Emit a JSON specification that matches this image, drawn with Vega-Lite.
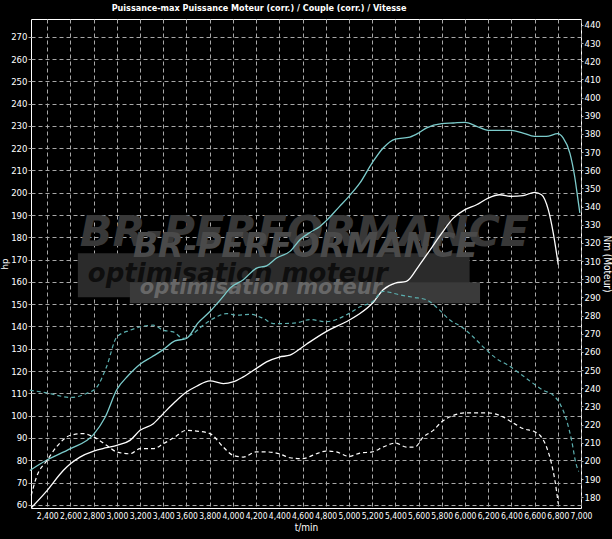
{
  "$schema": "https://vega.github.io/schema/vega-lite/v6.json",
  "width": 550,
  "height": 489,
  "autosize": {"type": "none"},
  "padding": {"left": 31, "top": 19, "right": 31, "bottom": 31},
  "background": "#000000",
  "title": {
    "text": "Puissance-max Puissance Moteur (corr.) / Couple (corr.) / Vitesse",
    "anchor": "middle",
    "dx": -47,
    "offset": 6,
    "fontSize": 9,
    "fontWeight": "bold",
    "color": "#ffffff",
    "font": "DejaVu Sans Condensed, sans-serif"
  },
  "datasets": {
    "power": [
      {"rpm": 2250, "hp": 75.4, "curve": "Puissance-max"},
      {"rpm": 2400, "hp": 80.2, "curve": "Puissance-max"},
      {"rpm": 2600, "hp": 85.2, "curve": "Puissance-max"},
      {"rpm": 2800, "hp": 91.6, "curve": "Puissance-max"},
      {"rpm": 2900, "hp": 99.4, "curve": "Puissance-max"},
      {"rpm": 3000, "hp": 111.7, "curve": "Puissance-max"},
      {"rpm": 3100, "hp": 118.1, "curve": "Puissance-max"},
      {"rpm": 3200, "hp": 123.1, "curve": "Puissance-max"},
      {"rpm": 3300, "hp": 126.3, "curve": "Puissance-max"},
      {"rpm": 3400, "hp": 129.6, "curve": "Puissance-max"},
      {"rpm": 3500, "hp": 133.5, "curve": "Puissance-max"},
      {"rpm": 3600, "hp": 134.6, "curve": "Puissance-max"},
      {"rpm": 3700, "hp": 141.6, "curve": "Puissance-max"},
      {"rpm": 3800, "hp": 146.6, "curve": "Puissance-max"},
      {"rpm": 3917, "hp": 153.5, "curve": "Puissance-max"},
      {"rpm": 3975, "hp": 157.2, "curve": "Puissance-max"},
      {"rpm": 4090, "hp": 161.0, "curve": "Puissance-max"},
      {"rpm": 4205, "hp": 166.2, "curve": "Puissance-max"},
      {"rpm": 4290, "hp": 167.2, "curve": "Puissance-max"},
      {"rpm": 4377, "hp": 170.7, "curve": "Puissance-max"},
      {"rpm": 4492, "hp": 173.7, "curve": "Puissance-max"},
      {"rpm": 4578, "hp": 178.9, "curve": "Puissance-max"},
      {"rpm": 4664, "hp": 182.2, "curve": "Puissance-max"},
      {"rpm": 4750, "hp": 184.9, "curve": "Puissance-max"},
      {"rpm": 4800, "hp": 187.2, "curve": "Puissance-max"},
      {"rpm": 4920, "hp": 193.9, "curve": "Puissance-max"},
      {"rpm": 5000, "hp": 198.4, "curve": "Puissance-max"},
      {"rpm": 5095, "hp": 204.4, "curve": "Puissance-max"},
      {"rpm": 5200, "hp": 213.4, "curve": "Puissance-max"},
      {"rpm": 5295, "hp": 220.1, "curve": "Puissance-max"},
      {"rpm": 5400, "hp": 224.1, "curve": "Puissance-max"},
      {"rpm": 5525, "hp": 225.0, "curve": "Puissance-max"},
      {"rpm": 5600, "hp": 226.8, "curve": "Puissance-max"},
      {"rpm": 5670, "hp": 229.1, "curve": "Puissance-max"},
      {"rpm": 5800, "hp": 231.0, "curve": "Puissance-max"},
      {"rpm": 5900, "hp": 231.3, "curve": "Puissance-max"},
      {"rpm": 6000, "hp": 231.6, "curve": "Puissance-max"},
      {"rpm": 6100, "hp": 229.8, "curve": "Puissance-max"},
      {"rpm": 6200, "hp": 228.0, "curve": "Puissance-max"},
      {"rpm": 6400, "hp": 228.0, "curve": "Puissance-max"},
      {"rpm": 6500, "hp": 226.8, "curve": "Puissance-max"},
      {"rpm": 6600, "hp": 225.3, "curve": "Puissance-max"},
      {"rpm": 6700, "hp": 225.3, "curve": "Puissance-max"},
      {"rpm": 6800, "hp": 226.5, "curve": "Puissance-max"},
      {"rpm": 6846, "hp": 224.6, "curve": "Puissance-max"},
      {"rpm": 6904, "hp": 217.8, "curve": "Puissance-max"},
      {"rpm": 6945, "hp": 207.4, "curve": "Puissance-max"},
      {"rpm": 6974, "hp": 196.9, "curve": "Puissance-max"},
      {"rpm": 6990, "hp": 191.0, "curve": "Puissance-max"},
      {"rpm": 2265, "hp": 58.8, "curve": "Puissance Moteur"},
      {"rpm": 2400, "hp": 66.5, "curve": "Puissance Moteur"},
      {"rpm": 2538, "hp": 75.4, "curve": "Puissance Moteur"},
      {"rpm": 2600, "hp": 78.4, "curve": "Puissance Moteur"},
      {"rpm": 2682, "hp": 81.4, "curve": "Puissance Moteur"},
      {"rpm": 2800, "hp": 84.1, "curve": "Puissance Moteur"},
      {"rpm": 2911, "hp": 85.6, "curve": "Puissance Moteur"},
      {"rpm": 3000, "hp": 86.7, "curve": "Puissance Moteur"},
      {"rpm": 3113, "hp": 88.9, "curve": "Puissance Moteur"},
      {"rpm": 3200, "hp": 93.4, "curve": "Puissance Moteur"},
      {"rpm": 3314, "hp": 96.4, "curve": "Puissance Moteur"},
      {"rpm": 3400, "hp": 100.9, "curve": "Puissance Moteur"},
      {"rpm": 3500, "hp": 106.1, "curve": "Puissance Moteur"},
      {"rpm": 3600, "hp": 110.6, "curve": "Puissance Moteur"},
      {"rpm": 3687, "hp": 113.2, "curve": "Puissance Moteur"},
      {"rpm": 3802, "hp": 115.6, "curve": "Puissance Moteur"},
      {"rpm": 3917, "hp": 114.4, "curve": "Puissance Moteur"},
      {"rpm": 4000, "hp": 115.1, "curve": "Puissance Moteur"},
      {"rpm": 4090, "hp": 117.4, "curve": "Puissance Moteur"},
      {"rpm": 4200, "hp": 121.1, "curve": "Puissance Moteur"},
      {"rpm": 4290, "hp": 124.1, "curve": "Puissance Moteur"},
      {"rpm": 4400, "hp": 126.3, "curve": "Puissance Moteur"},
      {"rpm": 4492, "hp": 127.1, "curve": "Puissance Moteur"},
      {"rpm": 4600, "hp": 130.8, "curve": "Puissance Moteur"},
      {"rpm": 4664, "hp": 133.1, "curve": "Puissance Moteur"},
      {"rpm": 4800, "hp": 137.6, "curve": "Puissance Moteur"},
      {"rpm": 5000, "hp": 142.8, "curve": "Puissance Moteur"},
      {"rpm": 5095, "hp": 145.8, "curve": "Puissance Moteur"},
      {"rpm": 5200, "hp": 150.3, "curve": "Puissance Moteur"},
      {"rpm": 5295, "hp": 156.5, "curve": "Puissance Moteur"},
      {"rpm": 5400, "hp": 159.5, "curve": "Puissance Moteur"},
      {"rpm": 5495, "hp": 160.2, "curve": "Puissance Moteur"},
      {"rpm": 5600, "hp": 167.0, "curve": "Puissance Moteur"},
      {"rpm": 5700, "hp": 174.4, "curve": "Puissance Moteur"},
      {"rpm": 5800, "hp": 181.9, "curve": "Puissance Moteur"},
      {"rpm": 5900, "hp": 188.6, "curve": "Puissance Moteur"},
      {"rpm": 6000, "hp": 192.4, "curve": "Puissance Moteur"},
      {"rpm": 6100, "hp": 194.6, "curve": "Puissance Moteur"},
      {"rpm": 6200, "hp": 197.6, "curve": "Puissance Moteur"},
      {"rpm": 6300, "hp": 199.1, "curve": "Puissance Moteur"},
      {"rpm": 6400, "hp": 198.4, "curve": "Puissance Moteur"},
      {"rpm": 6500, "hp": 198.7, "curve": "Puissance Moteur"},
      {"rpm": 6600, "hp": 200.2, "curve": "Puissance Moteur"},
      {"rpm": 6660, "hp": 199.1, "curve": "Puissance Moteur"},
      {"rpm": 6718, "hp": 192.4, "curve": "Puissance Moteur"},
      {"rpm": 6761, "hp": 181.9, "curve": "Puissance Moteur"},
      {"rpm": 6804, "hp": 167.7, "curve": "Puissance Moteur"}
    ],
    "torque": [
      {"rpm": 2250, "nm": 238.9, "curve": "Couple-max"},
      {"rpm": 2400, "nm": 237.4, "curve": "Couple-max"},
      {"rpm": 2600, "nm": 234.9, "curve": "Couple-max"},
      {"rpm": 2737, "nm": 237.1, "curve": "Couple-max"},
      {"rpm": 2825, "nm": 240.4, "curve": "Couple-max"},
      {"rpm": 2911, "nm": 251.8, "curve": "Couple-max"},
      {"rpm": 3000, "nm": 268.2, "curve": "Couple-max"},
      {"rpm": 3113, "nm": 271.9, "curve": "Couple-max"},
      {"rpm": 3200, "nm": 273.7, "curve": "Couple-max"},
      {"rpm": 3314, "nm": 274.7, "curve": "Couple-max"},
      {"rpm": 3400, "nm": 271.9, "curve": "Couple-max"},
      {"rpm": 3486, "nm": 271.0, "curve": "Couple-max"},
      {"rpm": 3572, "nm": 267.4, "curve": "Couple-max"},
      {"rpm": 3658, "nm": 270.1, "curve": "Couple-max"},
      {"rpm": 3745, "nm": 274.7, "curve": "Couple-max"},
      {"rpm": 3860, "nm": 279.3, "curve": "Couple-max"},
      {"rpm": 3946, "nm": 281.1, "curve": "Couple-max"},
      {"rpm": 4032, "nm": 280.2, "curve": "Couple-max"},
      {"rpm": 4147, "nm": 280.7, "curve": "Couple-max"},
      {"rpm": 4262, "nm": 278.4, "curve": "Couple-max"},
      {"rpm": 4348, "nm": 275.6, "curve": "Couple-max"},
      {"rpm": 4434, "nm": 275.6, "curve": "Couple-max"},
      {"rpm": 4549, "nm": 276.0, "curve": "Couple-max"},
      {"rpm": 4664, "nm": 277.8, "curve": "Couple-max"},
      {"rpm": 4800, "nm": 276.6, "curve": "Couple-max"},
      {"rpm": 5000, "nm": 281.1, "curve": "Couple-max"},
      {"rpm": 5095, "nm": 284.8, "curve": "Couple-max"},
      {"rpm": 5200, "nm": 287.5, "curve": "Couple-max"},
      {"rpm": 5295, "nm": 293.3, "curve": "Couple-max"},
      {"rpm": 5438, "nm": 291.4, "curve": "Couple-max"},
      {"rpm": 5560, "nm": 290.0, "curve": "Couple-max"},
      {"rpm": 5667, "nm": 288.7, "curve": "Couple-max"},
      {"rpm": 5765, "nm": 284.0, "curve": "Couple-max"},
      {"rpm": 5872, "nm": 277.4, "curve": "Couple-max"},
      {"rpm": 5972, "nm": 273.7, "curve": "Couple-max"},
      {"rpm": 6072, "nm": 268.2, "curve": "Couple-max"},
      {"rpm": 6172, "nm": 261.8, "curve": "Couple-max"},
      {"rpm": 6272, "nm": 256.3, "curve": "Couple-max"},
      {"rpm": 6372, "nm": 252.6, "curve": "Couple-max"},
      {"rpm": 6473, "nm": 248.1, "curve": "Couple-max"},
      {"rpm": 6571, "nm": 243.4, "curve": "Couple-max"},
      {"rpm": 6674, "nm": 238.9, "curve": "Couple-max"},
      {"rpm": 6761, "nm": 236.1, "curve": "Couple-max"},
      {"rpm": 6818, "nm": 231.5, "curve": "Couple-max"},
      {"rpm": 6876, "nm": 222.3, "curve": "Couple-max"},
      {"rpm": 6919, "nm": 211.3, "curve": "Couple-max"},
      {"rpm": 6957, "nm": 198.4, "curve": "Couple-max"},
      {"rpm": 6980, "nm": 194.2, "curve": "Couple-max"},
      {"rpm": 2262, "nm": 181.0, "curve": "Couple"},
      {"rpm": 2308, "nm": 191.2, "curve": "Couple"},
      {"rpm": 2400, "nm": 200.4, "curve": "Couple"},
      {"rpm": 2480, "nm": 207.7, "curve": "Couple"},
      {"rpm": 2600, "nm": 214.1, "curve": "Couple"},
      {"rpm": 2710, "nm": 215.0, "curve": "Couple"},
      {"rpm": 2800, "nm": 213.1, "curve": "Couple"},
      {"rpm": 2911, "nm": 208.6, "curve": "Couple"},
      {"rpm": 3000, "nm": 204.9, "curve": "Couple"},
      {"rpm": 3113, "nm": 203.9, "curve": "Couple"},
      {"rpm": 3200, "nm": 206.7, "curve": "Couple"},
      {"rpm": 3314, "nm": 206.7, "curve": "Couple"},
      {"rpm": 3400, "nm": 209.4, "curve": "Couple"},
      {"rpm": 3500, "nm": 213.1, "curve": "Couple"},
      {"rpm": 3600, "nm": 216.8, "curve": "Couple"},
      {"rpm": 3687, "nm": 216.4, "curve": "Couple"},
      {"rpm": 3802, "nm": 215.0, "curve": "Couple"},
      {"rpm": 3917, "nm": 207.6, "curve": "Couple"},
      {"rpm": 4000, "nm": 203.1, "curve": "Couple"},
      {"rpm": 4090, "nm": 202.1, "curve": "Couple"},
      {"rpm": 4200, "nm": 204.9, "curve": "Couple"},
      {"rpm": 4290, "nm": 204.9, "curve": "Couple"},
      {"rpm": 4400, "nm": 203.9, "curve": "Couple"},
      {"rpm": 4492, "nm": 201.7, "curve": "Couple"},
      {"rpm": 4600, "nm": 201.2, "curve": "Couple"},
      {"rpm": 4720, "nm": 203.9, "curve": "Couple"},
      {"rpm": 4800, "nm": 205.4, "curve": "Couple"},
      {"rpm": 4892, "nm": 204.9, "curve": "Couple"},
      {"rpm": 5000, "nm": 202.5, "curve": "Couple"},
      {"rpm": 5095, "nm": 204.3, "curve": "Couple"},
      {"rpm": 5200, "nm": 204.9, "curve": "Couple"},
      {"rpm": 5295, "nm": 207.6, "curve": "Couple"},
      {"rpm": 5400, "nm": 209.8, "curve": "Couple"},
      {"rpm": 5495, "nm": 207.6, "curve": "Couple"},
      {"rpm": 5567, "nm": 207.6, "curve": "Couple"},
      {"rpm": 5640, "nm": 213.1, "curve": "Couple"},
      {"rpm": 5727, "nm": 216.8, "curve": "Couple"},
      {"rpm": 5800, "nm": 221.5, "curve": "Couple"},
      {"rpm": 5900, "nm": 225.0, "curve": "Couple"},
      {"rpm": 6000, "nm": 226.4, "curve": "Couple"},
      {"rpm": 6100, "nm": 226.4, "curve": "Couple"},
      {"rpm": 6200, "nm": 226.4, "curve": "Couple"},
      {"rpm": 6300, "nm": 225.0, "curve": "Couple"},
      {"rpm": 6400, "nm": 221.5, "curve": "Couple"},
      {"rpm": 6500, "nm": 217.8, "curve": "Couple"},
      {"rpm": 6600, "nm": 216.0, "curve": "Couple"},
      {"rpm": 6646, "nm": 214.1, "curve": "Couple"},
      {"rpm": 6703, "nm": 207.6, "curve": "Couple"},
      {"rpm": 6746, "nm": 198.4, "curve": "Couple"},
      {"rpm": 6775, "nm": 189.3, "curve": "Couple"},
      {"rpm": 6804, "nm": 176.4, "curve": "Couple"}
    ]
  },
  "layer": [
    {
      "data": {"values": [{}]},
      "layer": [
        {
          "mark": {"type": "text", "text": "BR-PERFORMANCE", "font": "DejaVu Sans", "fontWeight": "bold", "fontStyle": "italic", "fontSize": 43, "align": "left", "baseline": "alphabetic", "color": "#383838"},
          "encoding": {
            "x": {"datum": 2680, "type": "quantitative", "scale": {"domain": [2260, 7000], "nice": false, "zero": false}, "axis": null},
            "y": {"datum": 176, "type": "quantitative", "scale": {"domain": [58.56, 277.95], "nice": false, "zero": false}, "axis": null}
          }
        },
        {
          "mark": {"type": "rect", "color": "#2b2b2b"},
          "encoding": {
            "x": {"datum": 2664, "type": "quantitative", "axis": null},
            "x2": {"datum": 6040},
            "y": {"datum": 172.9, "type": "quantitative", "axis": null},
            "y2": {"datum": 153.1}
          }
        },
        {
          "mark": {"type": "text", "text": "BR-PERFORMANCE", "font": "DejaVu Sans", "fontWeight": "bold", "fontStyle": "italic", "fontSize": 33, "align": "left", "baseline": "alphabetic", "color": "#4a4a4a"},
          "encoding": {
            "x": {"datum": 3138, "type": "quantitative", "axis": null},
            "y": {"datum": 171, "type": "quantitative", "axis": null}
          }
        },
        {
          "mark": {"type": "rect", "color": "#3a3a3a"},
          "encoding": {
            "x": {"datum": 3112, "type": "quantitative", "axis": null},
            "x2": {"datum": 6130},
            "y": {"datum": 159.8, "type": "quantitative", "axis": null},
            "y2": {"datum": 150.4}
          }
        },
        {
          "mark": {"type": "text", "text": "optimisation moteur", "font": "DejaVu Sans", "fontWeight": "bold", "fontStyle": "italic", "fontSize": 26, "align": "left", "baseline": "alphabetic", "color": "#0e0e0e"},
          "encoding": {
            "x": {"datum": 2750, "type": "quantitative", "axis": null},
            "y": {"datum": 159.8, "type": "quantitative", "axis": null}
          }
        },
        {
          "mark": {"type": "text", "text": "optimisation moteur", "font": "DejaVu Sans", "fontWeight": "bold", "fontStyle": "italic", "fontSize": 21, "align": "left", "baseline": "alphabetic", "color": "#676767"},
          "encoding": {
            "x": {"datum": 3198, "type": "quantitative", "axis": null},
            "y": {"datum": 154.4, "type": "quantitative", "axis": null}
          }
        }
      ]
    },
    {
      "data": {"name": "power"},
      "mark": {"type": "line", "strokeWidth": 1.3, "interpolate": "monotone"},
      "encoding": {
        "x": {
          "field": "rpm", "type": "quantitative",
          "scale": {"domain": [2260, 7000], "nice": false, "zero": false},
          "axis": {"orient": "bottom", "title": "t/min", "grid": true, "values": [2400,2600,2800,3000,3200,3400,3600,3800,4000,4200,4400,4600,4800,5000,5200,5400,5600,5800,6000,6200,6400,6600,6800,7000], "format": ",d", "labelOverlap": false, "labelFlush": false, "labelFontSize": 8.5, "tickSize": 0, "labelPadding": 3, "titlePadding": 3}
        },
        "y": {
          "field": "hp", "type": "quantitative",
          "scale": {"domain": [58.56, 277.95], "nice": false, "zero": false},
          "axis": {"orient": "left", "title": "hp", "grid": true, "values": [60,70,80,90,100,110,120,130,140,150,160,170,180,190,200,210,220,230,240,250,260,270], "tickSize": 3, "labelPadding": 1, "titlePadding": 1, "titleFontSize": 9.5, "labelOverlap": false}
        },
        "color": {"field": "curve", "type": "nominal", "scale": {"domain": ["Puissance-max", "Puissance Moteur", "Couple-max", "Couple"], "range": ["#7ccccc", "#ffffff", "#5aaeae", "#ffffff"]}, "legend": null}
      }
    },
    {
      "data": {"name": "torque"},
      "mark": {"type": "line", "strokeWidth": 1.2, "strokeDash": [4, 3], "interpolate": "monotone"},
      "encoding": {
        "x": {
          "field": "rpm", "type": "quantitative",
          "scale": {"domain": [2260, 7000], "nice": false, "zero": false},
          "axis": null
        },
        "y": {
          "field": "nm", "type": "quantitative",
          "scale": {"domain": [174.05, 443.25], "nice": false, "zero": false},
          "axis": {"orient": "right", "title": "Nm (Moteur)", "grid": false, "values": [180,190,200,210,220,230,240,250,260,270,280,290,300,310,320,330,340,350,360,370,380,390,400,410,420,430,440], "tickSize": 2, "labelPadding": 1, "titlePadding": 1, "labelOverlap": false}
        },
        "color": {"field": "curve", "type": "nominal", "scale": {"domain": ["Puissance-max", "Puissance Moteur", "Couple-max", "Couple"], "range": ["#7ccccc", "#ffffff", "#5aaeae", "#ffffff"]}, "legend": null}
      }
    }
  ],
  "resolve": {"scale": {"x": "independent", "y": "independent"}},
  "config": {
    "view": {"stroke": "#ffffff", "strokeWidth": 1},
    "axis": {
      "domain": false,
      "gridColor": "#a8a8a8",
      "gridDash": [4, 3],
      "gridWidth": 1,
      "tickColor": "#a8a8a8",
      "labelColor": "#ffffff",
      "labelFont": "DejaVu Sans Condensed, sans-serif",
      "labelFontSize": 9.5,
      "titleColor": "#ffffff",
      "titleFont": "DejaVu Sans Condensed, sans-serif",
      "titleFontSize": 10,
      "titleFontWeight": "normal",
      "zindex": 1
    }
  }
}
